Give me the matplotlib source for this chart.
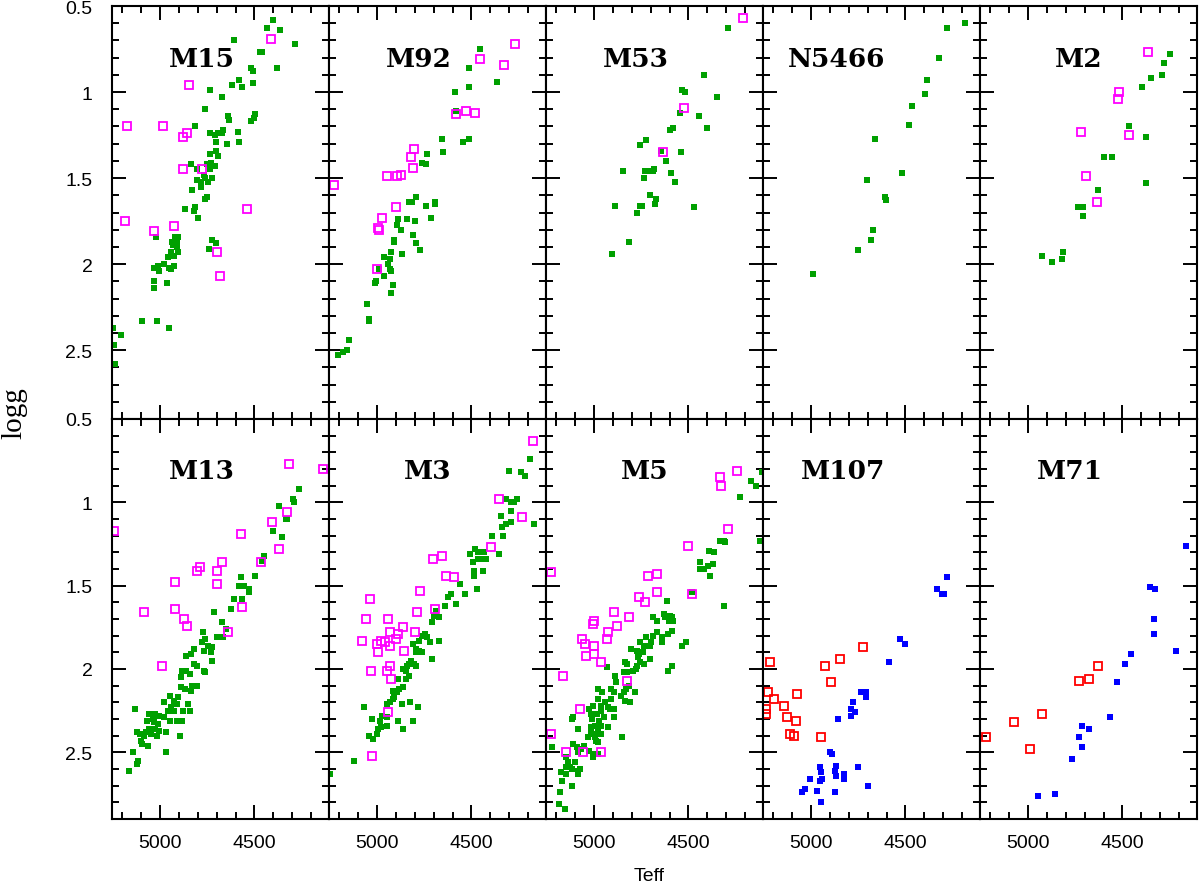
import numpy as np
import matplotlib
matplotlib.use("Agg")
import matplotlib.pyplot as plt
from matplotlib.ticker import MultipleLocator, FuncFormatter

# ---------------- data: (Teff, logg) ----------------
M15_fill = [(4403,0.58),(4431,0.63),(4366,0.64),(4284,0.72),(4608,0.70),(4461,0.77),(4473,0.77),(4380,0.86),
            (4519,0.86),(4510,0.88),(4583,0.93),(4620,0.96),(4564,0.97),(4507,0.95),(4738,0.99),(4671,1.03),
            (4760,1.10),(4641,1.14),(4634,1.16),(4498,1.13),(4505,1.15),(4519,1.17),(4816,1.20),(4735,1.24),
            (4708,1.25),(4691,1.24),(4668,1.22),(4673,1.24),(4587,1.23),(4703,1.29),(4643,1.30),(4583,1.29),
            (4738,1.36),(4703,1.34),(4691,1.37),(4834,1.42),(4806,1.45),(4753,1.42),(4728,1.41),(4708,1.43),
            (4735,1.45),(4770,1.48),(4806,1.51),(4781,1.52),(4762,1.50),(4744,1.52),(4726,1.50),(4781,1.55),
            (4832,1.57),(4763,1.62),(4754,1.61),(4866,1.68),(4813,1.67),(4820,1.69),(4800,1.73),(5021,1.84),
            (4936,1.87),(4903,1.84),(4920,1.84),(4912,1.87),(4931,1.89),(4912,1.90),(4903,1.93),(4943,1.93),
            (4956,1.96),(4929,1.95),(4724,1.86),(4703,1.88),(4742,1.91),(5035,2.02),(5009,2.01),(4982,2.00),
            (5004,2.04),(4951,2.02),(4943,2.03),(4926,2.01),(5032,2.10),(4965,2.11),(5032,2.14),(5095,2.33),
            (5018,2.33),(4952,2.37),(5251,2.37),(5205,2.41),(5242,2.47),(5237,2.58)]
M15_open = [(4410,0.69),(4846,0.96),(5177,1.20),(4986,1.20),(4857,1.24),(4878,1.26),(4878,1.45),(4776,1.45),
            (4541,1.68),(5186,1.75),(5032,1.81),(4926,1.78),(4701,1.93),(4684,2.07)]

M92_fill = [(4457,0.75),(4511,0.86),(4511,0.97),(4367,0.94),(4587,1.00),(4582,1.11),(4654,1.27),(4652,1.35),
            (4543,1.29),(4511,1.27),(4734,1.36),(4761,1.41),(4743,1.42),(4796,1.61),(4814,1.64),(4833,1.64),
            (4743,1.66),(4695,1.64),(4691,1.65),(4715,1.73),(4888,1.74),(4840,1.74),(4800,1.75),(4897,1.77),
            (4872,1.80),(4910,1.86),(4911,1.87),(4808,1.83),(4796,1.88),(4929,1.93),(4869,1.94),(4771,1.92),
            (4965,1.96),(4934,1.97),(4943,2.00),(4933,2.03),(4927,2.04),(4991,2.03),(4961,2.07),(5004,2.10),
            (5009,2.11),(4917,2.12),(4926,2.17),(5053,2.23),(5043,2.32),(5041,2.33),(5149,2.44),(5158,2.50),
            (5181,2.51),(5206,2.53)]
M92_open = [(4268,0.72),(4454,0.81),(4326,0.84),(4580,1.13),(4527,1.11),(4480,1.12),(4805,1.33),(4821,1.38),
            (4812,1.44),(4945,1.49),(4897,1.49),(4876,1.48),(5230,1.54),(4901,1.67),(4972,1.73),(4995,1.79),
            (4991,1.80),(4998,2.03)]

M53_fill = [(4293,0.63),(4417,0.90),(4532,0.99),(4520,1.00),(4349,1.03),(4543,1.12),(4443,1.14),(4404,1.21),
            (4596,1.22),(4580,1.21),(4727,1.28),(4757,1.31),(4647,1.34),(4539,1.35),(4619,1.40),(4846,1.46),
            (4732,1.46),(4711,1.46),(4697,1.46),(4681,1.45),(4686,1.46),(4594,1.47),(4738,1.50),(4569,1.52),
            (4704,1.60),(4670,1.62),(4679,1.65),(4757,1.66),(4745,1.66),(4887,1.66),(4470,1.67),(4775,1.70),
            (4814,1.87),(4906,1.94)]
M53_open = [(4213,0.57),(4523,1.09),(4633,1.35)]

N5466_fill = [(4186,0.60),(4278,0.63),(4323,0.80),(4385,0.93),(4397,1.01),(4468,1.08),(4479,1.19),(4660,1.27),
              (4516,1.47),(4704,1.51),(4608,1.61),(4603,1.63),(4670,1.80),(4683,1.86),(4752,1.92),(4989,2.06)]
N5466_open = []

M2_fill = [(4246,0.78),(4280,0.83),(4291,0.90),(4348,0.92),(4397,0.97),(4468,1.20),(4374,1.26),(4599,1.38),
           (4553,1.38),(4376,1.53),(4628,1.57),(4738,1.67),(4711,1.67),(4711,1.72),(4817,1.93),(4821,1.97),
           (4927,1.95),(4872,1.99)]
M2_open = [(4363,0.77),(4521,1.00),(4523,1.04),(4718,1.23),(4463,1.25),(4693,1.49),(4635,1.64)]

M13_fill = [(4265,0.92),(4297,0.98),(4288,1.00),(4369,1.02),(4332,1.10),(4325,1.10),(4401,1.17),(4352,1.21),
            (4447,1.32),(4461,1.35),(4495,1.44),(4571,1.45),(4583,1.50),(4553,1.50),(4527,1.52),(4530,1.54),
            (4611,1.58),(4565,1.58),(4625,1.64),(4717,1.66),(4671,1.72),(4650,1.76),(4666,1.81),(4696,1.81),
            (4774,1.78),(4761,1.82),(4779,1.84),(4745,1.86),(4723,1.87),(4818,1.88),(4834,1.91),(4864,1.92),
            (4770,1.89),(4728,1.90),(4724,1.95),(4820,1.97),(4802,1.98),(4882,2.01),(4864,2.01),(4839,2.03),
            (4770,2.01),(4763,2.02),(4890,2.05),(4804,2.10),(4832,2.10),(4889,2.11),(4867,2.12),(4835,2.13),
            (4947,2.16),(4905,2.17),(4977,2.20),(4929,2.19),(4912,2.21),(4852,2.21),(4940,2.23),(4956,2.25),
            (4929,2.25),(4880,2.25),(4841,2.25),(5131,2.24),(5057,2.27),(5027,2.27),(5004,2.28),(4977,2.29),
            (4947,2.31),(4908,2.31),(4885,2.31),(5071,2.31),(5039,2.30),(5032,2.32),(5009,2.33),(5057,2.36),
            (5074,2.38),(5027,2.36),(5124,2.38),(5106,2.39),(5004,2.37),(5018,2.40),(5088,2.40),(5048,2.39),
            (5101,2.43),(5097,2.45),(5062,2.46),(4968,2.38),(4894,2.40),(4970,2.50),(5143,2.50),(5118,2.55),
            (5124,2.57),(5163,2.61)]
M13_open = [(4318,0.77),(4138,0.80),(5242,1.17),(4329,1.06),(4406,1.12),(4571,1.19),(4368,1.28),(4463,1.36),
            (4670,1.36),(4788,1.39),(4804,1.41),(4697,1.41),(4919,1.48),(4699,1.49),(5087,1.66),(4922,1.64),
            (4871,1.70),(4860,1.74),(4567,1.63),(4641,1.78),(4988,1.98)]

M3_fill = [(4190,0.74),(4301,0.81),(4236,0.82),(4218,0.84),(4316,0.98),(4293,1.00),(4273,1.00),(4261,0.98),
           (4342,1.08),(4289,1.05),(4291,1.12),(4316,1.13),(4337,1.15),(4167,1.13),(4335,1.20),(4390,1.20),
           (4355,1.31),(4509,1.31),(4479,1.28),(4465,1.30),(4431,1.30),(4491,1.36),(4463,1.34),(4445,1.34),
           (4424,1.34),(4488,1.41),(4486,1.44),(4440,1.41),(4473,1.52),(4559,1.49),(4532,1.55),(4606,1.55),
           (4626,1.57),(4583,1.61),(4638,1.62),(4688,1.65),(4700,1.68),(4670,1.69),(4711,1.72),(4746,1.79),
           (4738,1.81),(4761,1.80),(4778,1.83),(4720,1.84),(4674,1.83),(4812,1.85),(4796,1.88),(4778,1.89),
           (4792,1.90),(4761,1.90),(4711,1.94),(4821,1.95),(4832,1.97),(4807,1.97),(4796,1.98),(4840,1.98),
           (4863,2.00),(4848,2.01),(4830,2.04),(4887,2.06),(4849,2.06),(4862,2.11),(4885,2.12),(4918,2.13),
           (4897,2.14),(4908,2.17),(4917,2.18),(4945,2.21),(4931,2.20),(4869,2.21),(4824,2.20),(4785,2.23),
           (5067,2.23),(5025,2.30),(4984,2.31),(4972,2.28),(4950,2.29),(4887,2.31),(4812,2.31),(4945,2.34),
           (4862,2.36),(4980,2.35),(4993,2.36),(4998,2.39),(5041,2.40),(5021,2.42),(5122,2.55),(5248,2.63)]
M3_open = [(4172,0.63),(4353,0.98),(4231,1.09),(4399,1.27),(4702,1.34),(4654,1.32),(4635,1.44),(4590,1.45),
           (4771,1.53),(5039,1.58),(4693,1.64),(4789,1.66),(5059,1.70),(4941,1.70),(4862,1.75),(4800,1.78),
           (4931,1.78),(4888,1.79),(4980,1.83),(5080,1.83),(5002,1.85),(4956,1.84),(4931,1.86),(4901,1.82),
           (4855,1.89),(4995,1.90),(4933,1.98),(4945,2.01),(5030,2.01),(4927,2.06),(4940,2.26),(5027,2.52)]

M5_fill = [(4108,0.82),(4168,0.87),(4142,0.90),(4229,0.97),(4335,1.23),(4312,1.23),(4309,1.24),(4122,1.23),
           (4392,1.29),(4367,1.30),(4440,1.36),(4369,1.37),(4440,1.40),(4417,1.40),(4397,1.38),(4387,1.44),
           (4479,1.54),(4314,1.62),(4612,1.59),(4686,1.69),(4665,1.71),(4631,1.67),(4622,1.69),(4599,1.68),
           (4587,1.69),(4583,1.71),(4604,1.71),(4667,1.78),(4585,1.77),(4610,1.79),(4690,1.80),(4640,1.81),
           (4640,1.84),(4723,1.81),(4700,1.84),(4704,1.86),(4757,1.84),(4736,1.86),(4514,1.84),(4532,1.86),
           (4807,1.88),(4771,1.89),(4764,1.91),(4739,1.90),(4770,1.93),(4706,1.94),(4755,1.96),(4738,1.97),
           (4835,1.96),(4828,1.97),(4934,1.99),(4773,1.98),(4778,2.00),(4796,2.01),(4825,2.02),(4844,2.02),
           (4585,1.98),(4608,2.01),(4887,2.04),(4883,2.08),(4817,2.10),(4830,2.12),(4982,2.12),(4957,2.14),
           (4908,2.12),(4897,2.14),(4841,2.14),(4860,2.16),(4782,2.14),(4979,2.18),(4910,2.18),(4835,2.19),
           (4812,2.20),(4941,2.20),(5004,2.22),(4966,2.22),(5025,2.24),(4929,2.23),(4918,2.24),(4964,2.25),
           (4895,2.24),(5014,2.27),(4986,2.27),(5110,2.29),(5117,2.30),(5012,2.30),(4949,2.29),(4897,2.29),
           (4973,2.31),(4926,2.35),(5083,2.36),(5014,2.35),(4995,2.34),(4981,2.36),(4963,2.34),(5016,2.38),
           (5004,2.39),(4979,2.39),(4965,2.39),(5035,2.41),(4995,2.41),(4988,2.43),(4853,2.41),(4982,2.44),
           (5222,2.47),(5112,2.45),(5090,2.47),(5069,2.48),(5055,2.46),(5027,2.49),(5087,2.50),(5004,2.51),
           (4979,2.51),(5147,2.53),(5004,2.53),(5136,2.56),(5099,2.56),(5147,2.59),(5129,2.59),(5117,2.60),
           (5085,2.61),(5074,2.60),(5083,2.63),(5177,2.62),(5151,2.63),(5168,2.67),(5115,2.70),(5179,2.74),
           (5184,2.81),(5156,2.84)]
M5_open = [(4243,0.81),(4335,0.85),(4330,0.90),(4289,1.16),(4502,1.26),(5229,1.42),(4668,1.43),(4715,1.44),
           (4665,1.54),(4479,1.55),(4764,1.57),(4729,1.60),(4894,1.66),(4816,1.69),(5002,1.71),(5004,1.73),
           (4881,1.74),(4929,1.78),(4931,1.82),(5066,1.82),(5048,1.85),(5002,1.86),(5044,1.92),(5000,1.91),
           (4965,1.96),(5165,2.04),(4824,2.07),(5074,2.24),(5227,2.39),(5149,2.50),(5057,2.50),(4965,2.50)]

M107_fill = [(4282,1.45),(4335,1.52),(4309,1.55),(4296,1.55),(4528,1.82),(4504,1.85),(4589,1.96),(4736,2.14),
             (4709,2.14),(4711,2.17),(4777,2.20),(4791,2.24),(4766,2.26),(4786,2.28),(4860,2.30),(4899,2.50),
             (4888,2.51),(4869,2.58),(4754,2.59),(4954,2.59),(4947,2.62),(4940,2.66),(4954,2.67),(4871,2.61),
             (4869,2.64),(4824,2.63),(4824,2.66),(5007,2.66),(5032,2.72),(5046,2.74),(4970,2.73),(4872,2.74),
             (4700,2.70),(4950,2.80)]
M107_open = [(4727,1.87),(4849,1.94),(4929,1.98),(5216,1.96),(4894,2.08),(5227,2.14),(5199,2.18),(5076,2.15),
             (5144,2.22),(5239,2.24),(5239,2.27),(5128,2.29),(5082,2.31),(5112,2.39),(5092,2.40),(4949,2.41)]

M71_fill = [(4165,1.26),(4355,1.51),(4325,1.52),(4335,1.70),(4335,1.79),(4218,1.89),(4456,1.91),(4489,1.97),
            (4528,2.08),(4564,2.29),(4715,2.34),(4676,2.36),(4730,2.41),(4713,2.47),(4770,2.54),(4860,2.75),
            (4949,2.76)]
M71_open = [(4629,1.98),(4676,2.06),(4730,2.07),(4927,2.27),(5074,2.32),(4991,2.48),(5223,2.41)]

cluster_names = ["M15", "M92", "M53", "N5466", "M2", "M13", "M3", "M5", "M107", "M71"]
filled_sets = [M15_fill, M92_fill, M53_fill, N5466_fill, M2_fill, M13_fill, M3_fill, M5_fill, M107_fill, M71_fill]
open_sets = [M15_open, M92_open, M53_open, N5466_open, M2_open, M13_open, M3_open, M5_open, M107_open, M71_open]

x_ticks = [5000, 4500]
y_ticks = [0.5, 1.0, 1.5, 2.0, 2.5]

GREEN = "#00a000"
MAGENTA = "#ff00ff"
BLUE = "#0000ff"
RED = "#ff0000"

# ---------------- figure ----------------
W, H = 1200, 887
fig = plt.figure(figsize=(W / 100, H / 100), dpi=100)
gs = fig.add_gridspec(2, 5, left=112 / W, right=1197 / W, top=1 - 7 / H, bottom=1 - 820 / H,
                      hspace=0, wspace=0, height_ratios=[413, 400])

fmt = FuncFormatter(lambda v, p: "%g" % v)

for i, name in enumerate(cluster_names):
    r, c = divmod(i, 5)
    ax = fig.add_subplot(gs[r, c])
    fcol, ocol = (BLUE, RED) if name in ("M107", "M71") else (GREEN, MAGENTA)
    f = np.array(filled_sets[i], dtype=float).reshape(-1, 2)
    o = np.array(open_sets[i], dtype=float).reshape(-1, 2)
    if len(f):
        ax.plot(f[:, 0], f[:, 1], ls="none", marker="s", ms=4.6, mfc=fcol, mec=fcol, mew=0)
    if len(o):
        ax.plot(o[:, 0], o[:, 1], ls="none", marker="s", ms=5.6, mfc="none", mec=ocol, mew=1.3)
    ax.set_xlim(5255, 4105)
    ax.set_ylim(2.9, 0.5)
    ax.set_xticks(x_ticks)
    ax.set_yticks(y_ticks)
    ax.xaxis.set_minor_locator(MultipleLocator(100))
    ax.yaxis.set_minor_locator(MultipleLocator(0.1))
    ax.yaxis.set_major_formatter(fmt)
    ax.tick_params(which="both", direction="in", top=True, right=True, width=1.4, colors="black")
    ax.tick_params(which="major", length=10)
    ax.tick_params(which="minor", length=5)
    ax.tick_params(axis="y", pad=14, labelsize=14)
    ax.tick_params(axis="x", pad=11, labelsize=14)
    for lab in ax.get_xticklabels() + ax.get_yticklabels():
        lab.set_family("Liberation Sans")
    ax.tick_params(labelleft=(c == 0), labelbottom=(r == 1))
    for s in ax.spines.values():
        s.set_linewidth(1.5)
    ax.text(0.565, 0.872, name, transform=ax.transAxes, ha="right", va="center",
            fontsize=19, fontweight="bold", family="DejaVu Serif")

fig.text(14 / W, 1 - 413 / H, "logg", rotation=90, ha="center", va="center",
         fontsize=21, family="Liberation Serif")
fig.text(649 / W, 1 - 877 / H, "Teff", ha="center", va="center",
         fontsize=14, family="Liberation Sans")

fig.savefig("out.png", dpi=100)
